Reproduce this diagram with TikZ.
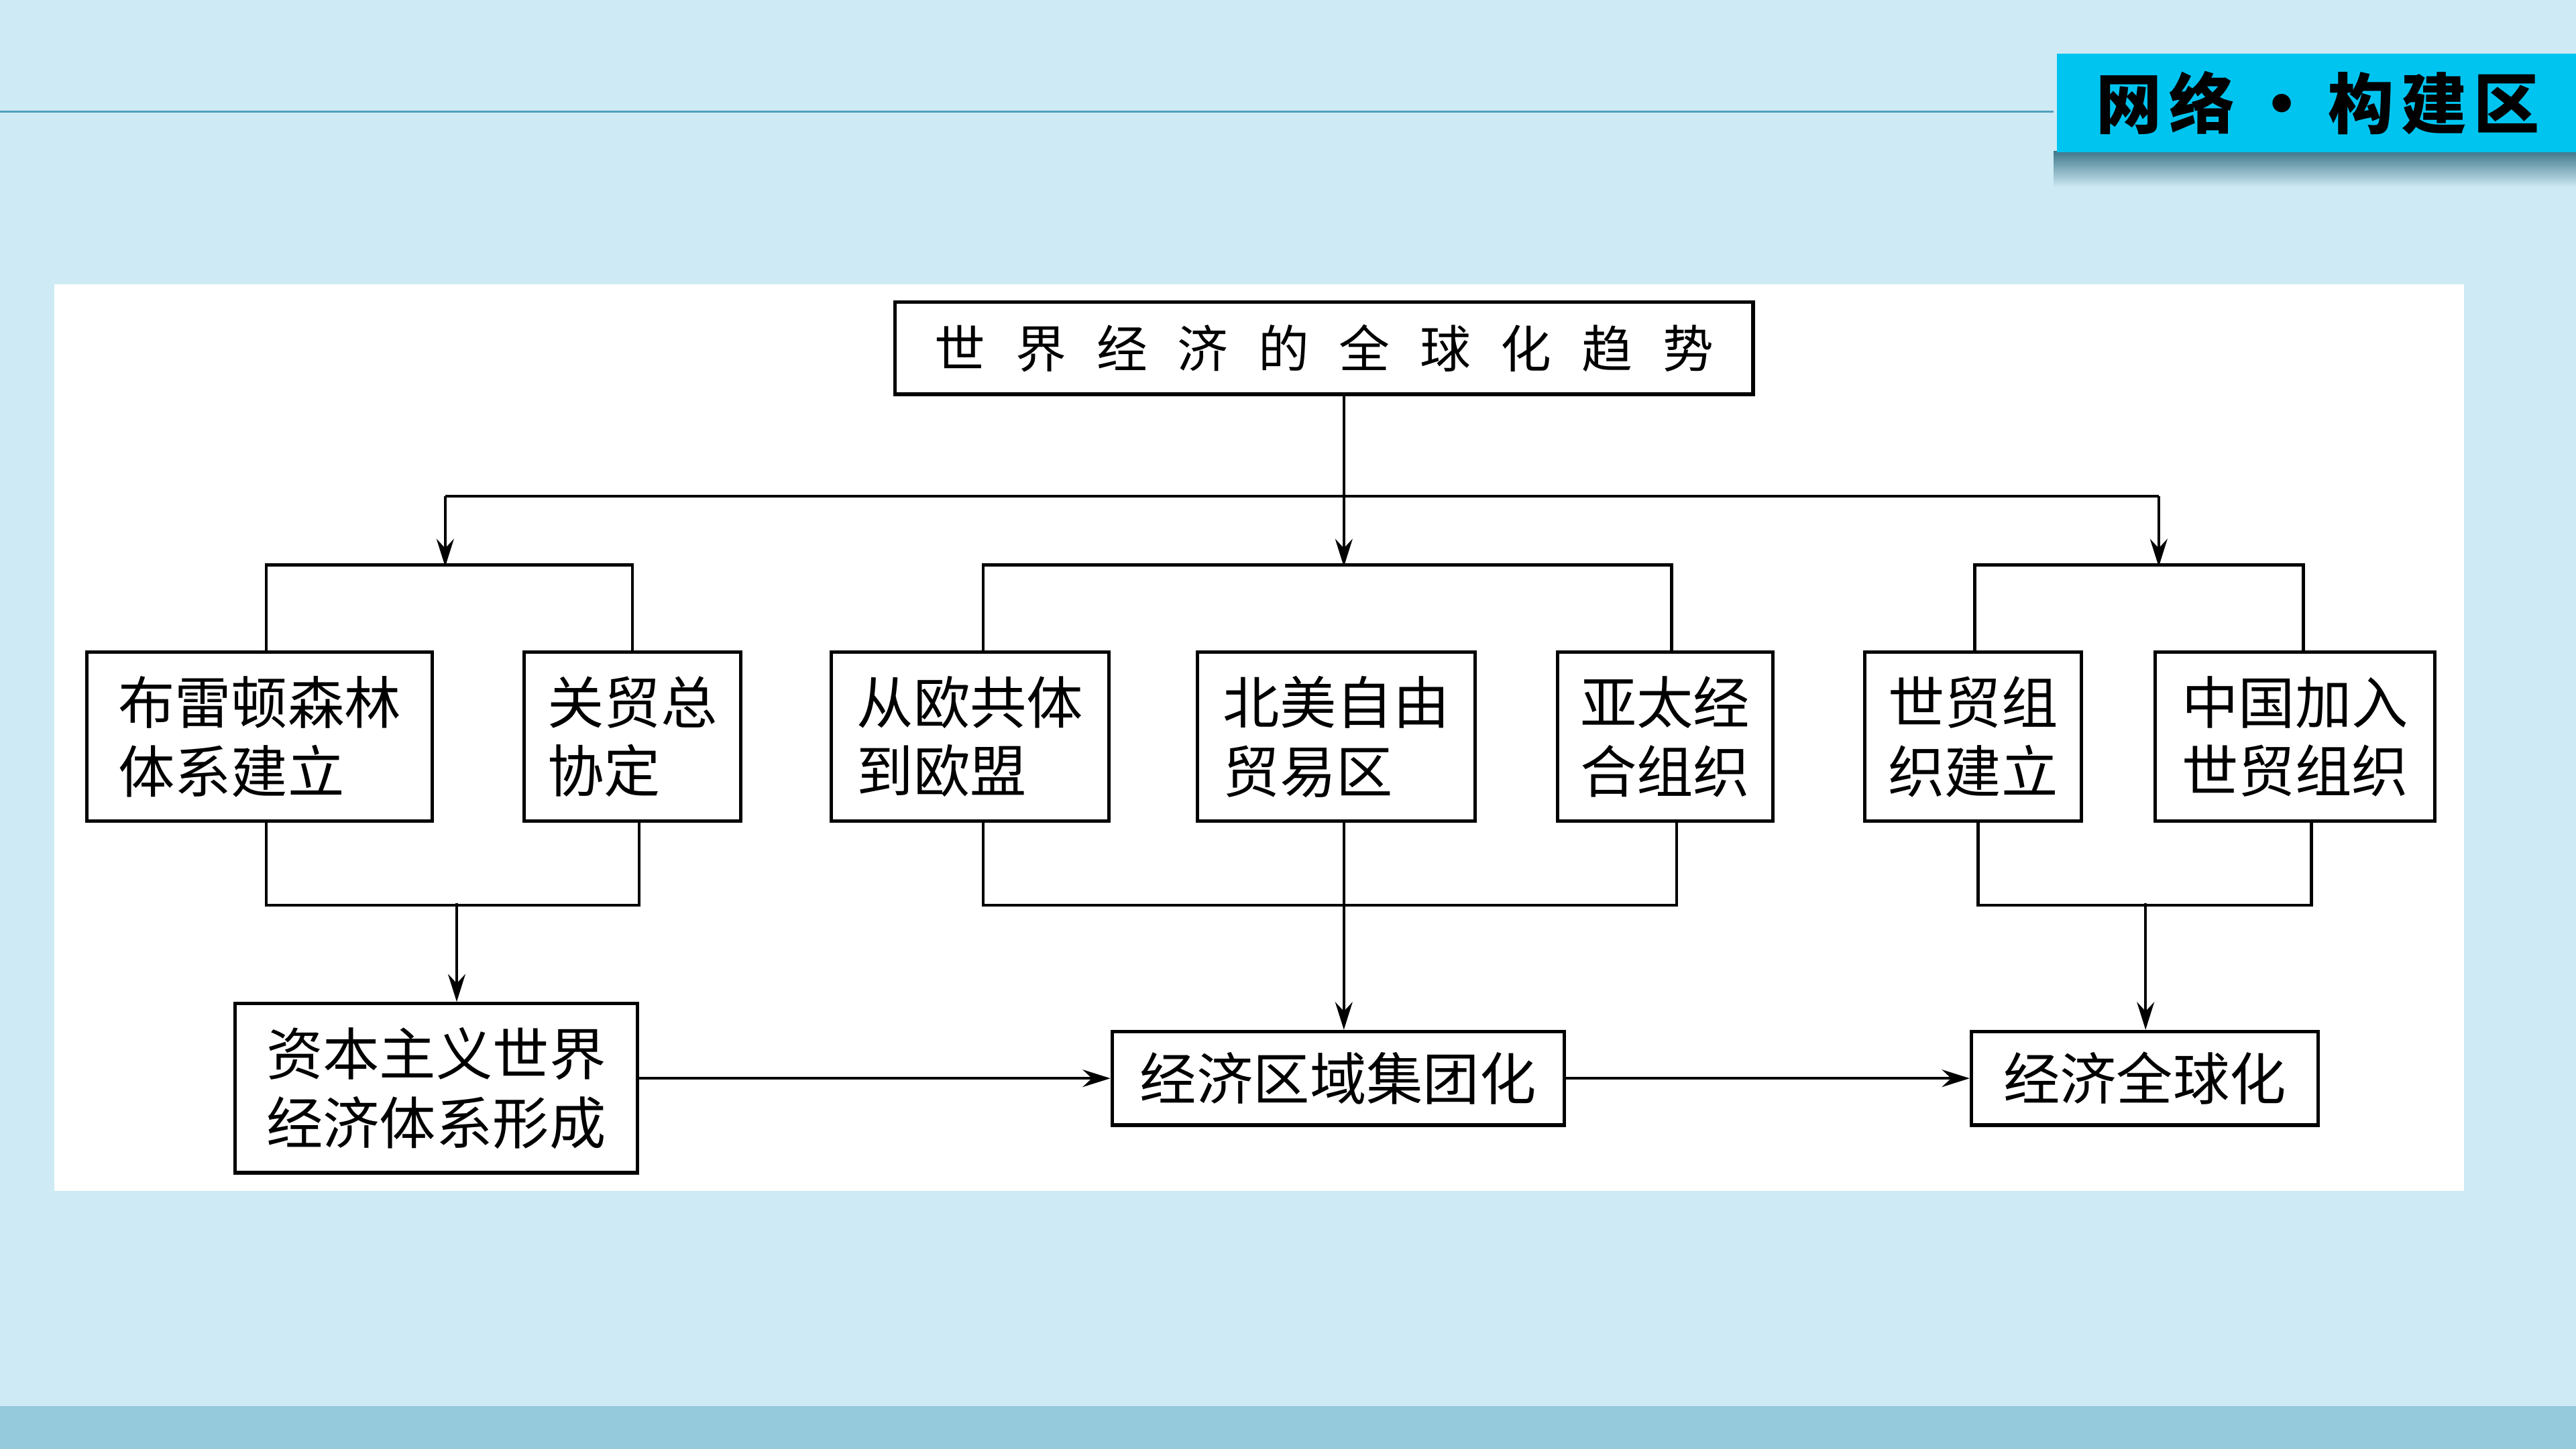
\documentclass[tikz,border=0pt]{standalone}
\usepackage{fontspec}
\usepackage{tikz}
\usetikzlibrary{arrows.meta}
\newfontfamily\cjk{Noto Sans CJK SC}
\definecolor{dibu}{RGB}{206,234,244}
\definecolor{dibian}{RGB}{148,202,220}
\definecolor{xianlan}{RGB}{80,160,190}
\definecolor{qing}{RGB}{0,196,240}
\definecolor{ying}{RGB}{62,118,138}
\tikzset{
	kuang/.style = {draw=black, line width=1.5pt, fill=white, inner sep=0pt,
		align=left, font=\cjk\fontsize{24.5}{29.8}\selectfont},% cadre de texte
	kuang_h/.style = {kuang, minimum height=2.575cm},% cadre haut (2 lignes)
	kuang_b/.style = {kuang, minimum height=1.425cm},% cadre bas (1 ligne)
	xian/.style = {line width=1.3pt},% trait simple
	jian/.style = {xian, -{Stealth[length=12pt, width=7.5pt, inset=4pt]}}% trait avec fleche
}
\newcommand{\kg}{\hspace{13pt}}
\begin{document}
\begin{tikzpicture}[x=0.025cm, y=-0.025cm]
	\useasboundingbox (0,0) rectangle (1568,882);
	% fond
	\fill[dibu] (0,0) rectangle (1568,882);
	\fill[dibian] (0,856) rectangle (1568,882);
	\draw[xianlan, line width=0.8pt] (0,68) -- (1250,68);
	\shade[top color=ying, bottom color=dibu] (1250,92) rectangle (1568,114);
	\node[fill=qing, minimum width=7.95cm, minimum height=1.5cm, inner sep=0pt,
		font=\cjk\bfseries\fontsize{28.5}{28.5}\selectfont] (biaoti) at (1411,62.5)
		{网\hspace{3pt}络\hspace{6pt}•\hspace{6pt}构\hspace{3pt}建\hspace{3pt}区};
	\fill[white] (33,173) rectangle (1500,725);
	% cadres
	\node[kuang, minimum width=13.05cm, minimum height=1.4cm,
		font=\cjk\fontsize{22}{22}\selectfont] (zong) at (806,212)
		{世\kg 界\kg 经\kg 济\kg 的\kg 全\kg 球\kg 化\kg 趋\kg 势};
	\node[kuang_h, minimum width=5.25cm] (bl) at (158,448.5) {布雷顿森林\\体系建立};
	\node[kuang_h, minimum width=3.3cm] (gm) at (385,448.5) {关贸总\\协定};
	\node[kuang_h, minimum width=4.225cm] (om) at (590.5,448.5) {从欧共体\\到欧盟};
	\node[kuang_h, minimum width=4.225cm] (bm) at (813.5,448.5) {北美自由\\贸易区};
	\node[kuang_h, minimum width=3.275cm] (yt) at (1013.5,448.5) {亚太经\\合组织};
	\node[kuang_h, minimum width=3.3cm] (sm) at (1201,448.5) {世贸组\\织建立};
	\node[kuang_h, minimum width=4.25cm] (zg) at (1397,448.5) {中国加入\\世贸组织};
	\node[kuang_h, minimum width=6.125cm] (zb) at (265.5,662.5) {资本主义世界\\经济体系形成};
	\node[kuang_b, minimum width=6.875cm] (jt) at (814.5,656.5) {经济区域集团化};
	\node[kuang_b, minimum width=5.275cm] (qq) at (1305.5,656.5) {经济全球化};
	% liaisons
	\coordinate (fz) at (818,302);
	\coordinate (fl) at (271,302);
	\coordinate (fr) at (1314,302);
	\coordinate (hl) at (278,550);
	\coordinate (hr) at (1306,550);
	\draw[xian] (zong.south -| fz) -- (fz);
	\draw[xian] (fl) -- (fr);
	\draw[jian] (fl) -- (271,345);
	\draw[jian] (fz) -- (818,345);
	\draw[jian] (fr) -- (1314,345);
	\draw[xian] ([xshift=0.1cm]bl.north) -- ++(0,-52) -| (gm.north);
	\draw[xian] ([xshift=0.2cm]om.north) -- ++(0,-52) -| ([xshift=0.1cm]yt.north);
	\draw[xian] ([xshift=0.025cm]sm.north) -- ++(0,-52) -| ([xshift=0.125cm]zg.north);
	\draw[xian] ([xshift=0.1cm]bl.south) -- ++(0,50) -| ([xshift=0.1cm]gm.south);
	\draw[xian] ([xshift=0.2cm]om.south) -- ++(0,50) -| ([xshift=0.175cm]yt.south);
	\draw[xian] ([xshift=0.075cm]sm.south) -- ++(0,50) -| ([xshift=0.25cm]zg.south);
	\draw[jian] (hl) -- (hl |- zb.north);
	\draw[jian] (bm.south -| fz) -- (jt.north -| fz);
	\draw[jian] (hr) -- (hr |- qq.north);
	\draw[jian] (jt.west -| zb.east) -- (jt.west);
	\draw[jian] (jt.east) -- (qq.west);
\end{tikzpicture}
\end{document}
